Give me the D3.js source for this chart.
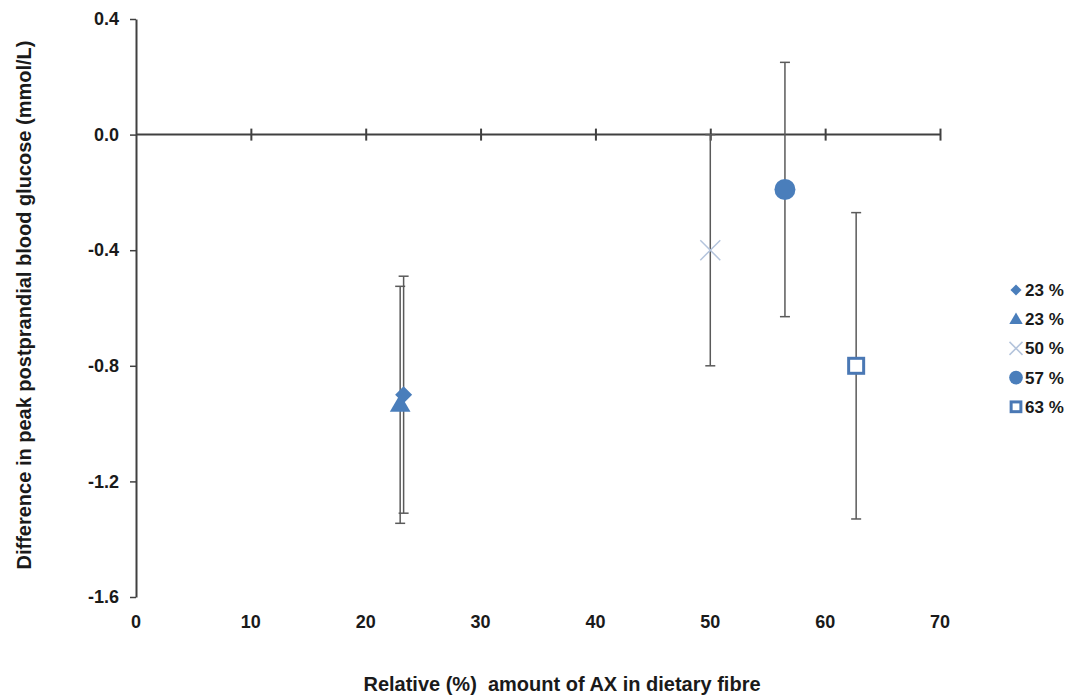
<!DOCTYPE html>
<html>
<head>
<meta charset="utf-8">
<script src="https://cdn.jsdelivr.net/npm/d3@7"></script>
<style>
  body { margin: 0; background: #fff; }
  text { font-family: "Liberation Sans", Arial, sans-serif; font-weight: bold; fill: #1a1a1a; }
</style>
</head>
<body>
<div id="chart"></div>
<script>
// data
let seriesNames = ['23 %', '23 %', '50 %', '57 %', '63 %'];
let seriesShapes = ['diamond', 'triangle', 'cross', 'circle', 'square'];
let xValues = [23.3, 23.0, 50, 56.5, 62.7];
let yValues = [-0.90, -0.935, -0.40, -0.19, -0.80];
let errValues = [0.41, 0.41, 0.40, 0.44, 0.53];
let xTicks = [0, 10, 20, 30, 40, 50, 60, 70];
let yTicks = [0.4, 0.0, -0.4, -0.8, -1.2, -1.6];

let width = 1078,
    height = 699;

let svg = d3.select('#chart')
    .append('svg')
    .attr('width', width)
    .attr('height', height);

let xScale = d3.scaleLinear()
    .domain([0, 70])
    .range([136, 940]);

let yScale = d3.scaleLinear()
    .domain([-1.6, 0.4])
    .range([597, 19]);

let axisColor = '#404040';
let blue = '#4a7ebb';

//#region axes
// y axis (left, ticks outside), plain hyphen for the minus sign
let axisY = d3.axisLeft(yScale)
    .tickValues(yTicks)
    .tickFormat(d => d.toFixed(1))
    .tickSize(6)
    .tickSizeOuter(0)
    .tickPadding(11);

let gy = svg.append('g')
    .attr('transform', `translate(${xScale(0)},0)`)
    .call(axisY);
gy.select('.domain').attr('stroke', axisColor).attr('stroke-width', 2);
gy.selectAll('.tick line').attr('stroke', axisColor).attr('stroke-width', 1.5);
gy.selectAll('.tick text')
    .attr('font-size', 18)
    .style('font-family', '"Liberation Sans", Arial, sans-serif')
    .style('font-weight', 'bold')
    .attr('fill', '#1a1a1a');

// x axis line crosses at y = 0, ticks cross the line
let axisX = d3.axisBottom(xScale)
    .tickValues(xTicks.filter(d => d > 0))
    .tickSize(12)
    .tickSizeOuter(0)
    .tickFormat('');

let gx = svg.append('g')
    .attr('transform', `translate(0,${yScale(0) - 6})`)
    .call(axisX);
gx.select('.domain').remove();
gx.selectAll('.tick line').attr('stroke', axisColor).attr('stroke-width', 2);

svg.append('line')
    .attr('x1', xScale(0)).attr('x2', xScale(70))
    .attr('y1', yScale(0)).attr('y2', yScale(0))
    .attr('stroke', axisColor)
    .attr('stroke-width', 2);

// x tick labels sit at the bottom of the plot
svg.append('g').selectAll('text')
    .data(xTicks)
    .enter()
    .append('text')
    .attr('x', d => xScale(d))
    .attr('y', yScale(-1.6) + 31)
    .attr('text-anchor', 'middle')
    .attr('font-size', 18)
    .text(d => d);
//#endregion

//#region titles
svg.append('text')
    .attr('x', 562)
    .attr('y', 691)
    .attr('text-anchor', 'middle')
    .attr('font-size', 20)
    .style('white-space', 'pre')
    .text('Relative (%)  amount of AX in dietary fibre');

svg.append('text')
    .attr('transform', 'translate(31,305) rotate(-90)')
    .attr('text-anchor', 'middle')
    .attr('font-size', 20)
    .text('Difference in peak postprandial blood glucose (mmol/L)');
//#endregion

//#region error bars
let bars = svg.append('g');
xValues.forEach((xv, i) => {
    let x = xScale(xv);
    let top = yScale(yValues[i] + errValues[i]);
    let bottom = yScale(yValues[i] - errValues[i]);
    bars.append('line')
        .attr('x1', x).attr('x2', x)
        .attr('y1', top).attr('y2', bottom)
        .attr('stroke', '#5a5a5a')
        .attr('stroke-width', 1.5);
    [top, bottom].forEach(y => {
        bars.append('line')
            .attr('x1', x - 5).attr('x2', x + 5)
            .attr('y1', y).attr('y2', y)
            .attr('stroke', '#5a5a5a')
            .attr('stroke-width', 1.5);
    });
});
//#endregion

//#region markers
function drawMarker(g, shape, x, y, scale) {
    let s = scale || 1;
    if (shape === 'diamond') {
        g.append('path')
            .attr('d', d3.symbol().type(d3.symbolDiamond2).size(185 * s * s)())
            .attr('transform', `translate(${x},${y})`)
            .attr('fill', blue);
    } else if (shape === 'triangle') {
        g.append('path')
            .attr('d', d3.symbol().type(d3.symbolTriangle).size(185 * s * s)())
            .attr('transform', `translate(${x},${y + 1})`)
            .attr('fill', blue);
    } else if (shape === 'cross') {
        let r = 10 * s;
        g.append('path')
            .attr('d', `M${-r},${-r}L${r},${r}M${-r},${r}L${r},${-r}`)
            .attr('transform', `translate(${x},${y})`)
            .attr('stroke', '#b4c4dc')
            .attr('stroke-width', 1.5)
            .attr('fill', 'none');
    } else if (shape === 'circle') {
        g.append('circle')
            .attr('cx', x).attr('cy', y)
            .attr('r', 10.5 * s)
            .attr('fill', blue);
    } else if (shape === 'square') {
        let h = 7.5 * s;
        g.append('rect')
            .attr('x', x - h).attr('y', y - h)
            .attr('width', 2 * h).attr('height', 2 * h)
            .attr('fill', '#fff')
            .attr('stroke', '#4a78b4')
            .attr('stroke-width', 3);
    }
}

let marks = svg.append('g');
xValues.forEach((xv, i) => {
    drawMarker(marks, seriesShapes[i], xScale(xv), yScale(yValues[i]));
});
//#endregion

//#region legend
let legend = svg.append('g');
seriesNames.forEach((name, i) => {
    let y = 290 + i * 29.2;
    drawMarker(legend, seriesShapes[i], 1016, y, 0.65);
    legend.append('text')
        .attr('x', 1025)
        .attr('y', y + 6)
        .attr('font-size', 17)
        .text(name);
});
//#endregion
</script>
</body>
</html>
